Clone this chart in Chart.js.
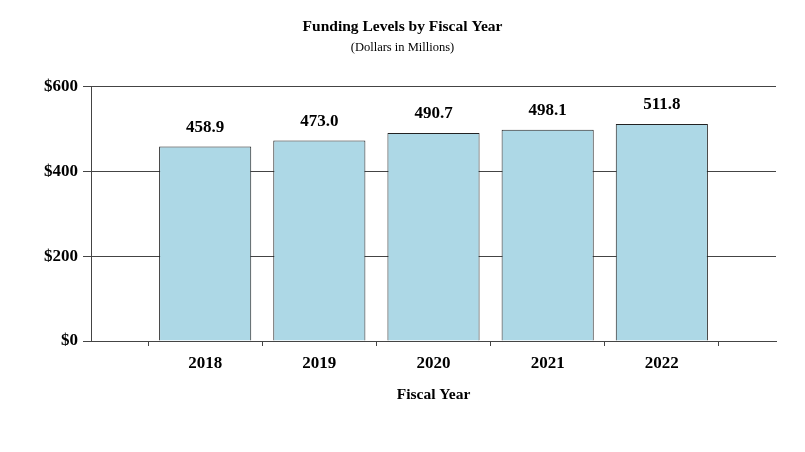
<!DOCTYPE html>
<html>
<head>
<meta charset="utf-8">
<script src="https://cdn.jsdelivr.net/npm/chart.js@4"></script>
<style>
  body { margin: 0; background: #fff; }
  #wrap { width: 805px; height: 452px; }
</style>
</head>
<body>
<div id="wrap"><canvas id="myChart"></canvas></div>
<script>
'use strict';
// chart values
let years = ['2018', '2019', '2020', '2021', '2022'];
let funding = [458.9, 473.0, 490.7, 498.1, 511.8];
let yTicks = [0, 200, 400, 600];

// one empty slot each side so the plot runs half a category past the bars
let labels = [''].concat(years, ['']);
let values = [null].concat(funding, [null]);

let serif = "'Liberation Serif', 'Times New Roman', serif";

let barLabels = {
    id: 'barLabels',
    afterDatasetsDraw(chart) {
        let ctx = chart.ctx;
        let meta = chart.getDatasetMeta(0);
        ctx.save();
        ctx.font = 'bold 17px ' + serif;
        ctx.fillStyle = '#000';
        ctx.textAlign = 'center';
        ctx.textBaseline = 'middle';
        meta.data.forEach(function (bar, i) {
            let v = values[i];
            if (v === null) return;
            ctx.fillText(v.toFixed(1), bar.x, bar.y - 19);
        });
        ctx.restore();
    }
};

let ctx = document.getElementById('myChart').getContext('2d');
let myChart = new Chart(ctx, {
    type: 'bar',
    data: {
        labels: labels,
        datasets: [{
            data: values,
            backgroundColor: '#add8e6',
            borderColor: '#222222',
            borderWidth: 1,
            barPercentage: 1,
            categoryPercentage: 0.807
        }]
    },
    options: {
        responsive: true,
        maintainAspectRatio: false,
        animation: false,
        layout: {
            padding: { left: 29, right: 29, top: 0, bottom: 48 }
        },
        plugins: {
            legend: { display: false },
            tooltip: { enabled: false },
            title: {
                display: true,
                text: 'Funding Levels by Fiscal Year',
                color: '#000',
                font: { family: serif, size: 15.5, weight: 'bold' },
                padding: { top: 18, bottom: 4 }
            },
            subtitle: {
                display: true,
                text: '(Dollars in Millions)',
                color: '#000',
                font: { family: serif, size: 12.5 },
                padding: { top: 0, bottom: 31 }
            }
        },
        scales: {
            x: {
                offset: false,
                grid: {
                    offset: true,
                    drawOnChartArea: false,
                    drawTicks: true,
                    tickLength: 5,
                    color: '#444'
                },
                border: { display: true, color: '#444', width: 1 },
                ticks: {
                    color: '#000',
                    font: { family: serif, size: 17, weight: 'bold' },
                    padding: 7,
                    maxRotation: 0,
                    autoSkip: false
                },
                title: {
                    display: true,
                    text: 'Fiscal Year',
                    color: '#000',
                    font: { family: serif, size: 15.5, weight: 'bold' },
                    padding: { top: 5, bottom: 0 }
                }
            },
            y: {
                min: yTicks[0],
                max: yTicks[yTicks.length - 1],
                afterBuildTicks: function (axis) {
                    axis.ticks = yTicks.map(function (v) { return { value: v }; });
                },
                afterFit: function (axis) {
                    axis.width = 62;
                },
                grid: {
                    color: '#444',
                    tickLength: 8
                },
                border: { display: true, color: '#444', width: 1 },
                ticks: {
                    color: '#000',
                    font: { family: serif, size: 17, weight: 'bold' },
                    padding: 5,
                    callback: function (v) { return '$' + v; }
                }
            }
        }
    },
    plugins: [barLabels]
});
</script>
</body>
</html>
